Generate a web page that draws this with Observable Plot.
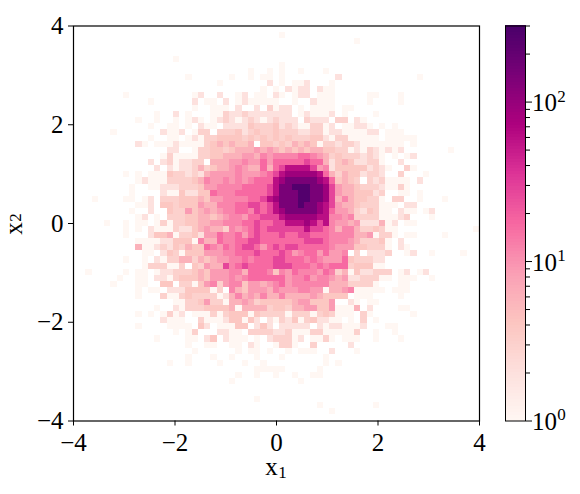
<!DOCTYPE html>
<html><head><meta charset="utf-8">
<script src="https://cdn.jsdelivr.net/npm/d3@7"></script>
<script src="https://cdn.jsdelivr.net/npm/@observablehq/plot@0.6"></script>
<style>
html,body{margin:0;padding:0;background:#fff}
#wrap{position:relative;width:580px;height:494px}
#wrap svg{position:absolute;left:0;top:0;background:transparent;font-family:'Liberation Serif',serif !important}
#wrap text{font-family:'Liberation Serif',serif !important}
#wrap g[aria-label="rect"] rect{shape-rendering:crispEdges}
</style></head><body><div id="wrap"></div>
<script>
const colormap = ["#fff7f3","#fde0dd","#fcc5c0","#fa9fb5","#f768a1","#dd3497","#ae017e","#7a0177","#49006a"];
const countLevels = [0,1,2,3,4,6,9,12,17,28,60,90,150,260];
const binCount = 65;
const axisTicks = [-4,-2,0,2,4];
const cbarMajor = [1,10,100];
const cbarMinor = [2,3,4,5,6,7,8,9,20,30,40,50,60,70,80,90,200,300];
// rows from top (x2 = +4) to bottom; groups of 5 columns, "-" = five empty cells; characters index countLevels
const rows = [
"",
"- - - - - - 00010",
"- - - - - - - - - 10000",
"",
"",
"- - - 01000",
"- - - - - - 00010",
"- - - - - 00010 01010 01000 10000",
"- - - 00010 - 10010 11010 - 00200 - - 10000",
"- - - - 00010 - 02010 11200 01000",
"- - - - - - 10102 12202 11000",
"- 00010 - 00001 20020 01201 10210 12201 11000 00110 00100",
"- - 00100 00002 01102 01211 11100 10021 11000 00100 00100",
"- - - 00001 00111 02002 03122 01011 11011",
"- - 00010 02010 00113 22322 22222 01211 12010 00010",
"- - 10010 01012 10123 21232 12322 20322 20330 21000",
"- - 00100 11010 21102 22243 33423 21133 12011 22101 01000",
"- 01000 00002 11201 33033 34234 33433 32233 12211 11220 11100",
"- - 00100 11012 13344 44343 43434 33344 21331 11110 11111",
"- - 21011 12111 13454 54450 44343 54541 33233 21111 11101",
"- - - 22001 33443 45556 56545 45455 44331 21321 21200 - 10000",
"- - 00001 31111 33445 55665 76777 78876 53433 32321 01012",
"- - 00202 31223 30555 66766 86888 88988 52454 22331 00200",
"- - 00020 21223 53455 67655 8589a aaa96 72444 44232 10031",
"- 00010 10111 43323 25666 67666 789ab bbbba 85354 42332 00300 01000",
"- - 12111 33334 57667 67678 88abc ccccb a8454 30323 11110 20000",
"- 00001 00112 22333 46677 77888 89acc dddcc b9655 43332 11310",
"- 00001 00002 11422 44877 78888 89acc cddcc b9655 44423 00110 10000",
"00010 00011 01203 33444 54667 77788 9abcc cddcc b9575 44331 03300 10001",
"- - 11204 43444 65577 78899 89acc cdccb a9655 43331 11022",
"- 00001 00200 43364 56567 78879 89abc ccccb a8665 32431 10211 01200",
"- - 12010 33344 55456 77688 999ab bbbba a7767 33331 11230 00100",
"- 10010 11013 13344 55667 77889 8899a aaba9 a7665 62225 12011",
"- 00010 10211 13224 56553 76789 89999 99a99 87577 53343 11000 - 00001",
"- 00010 00244 51334 26687 78689 88898 89988 87777 55613 31011 00001",
"- - 11112 24441 75587 78899 88888 88999 87776 53334 10200",
"- - 51123 24354 48768 78998 68989 98888 87666 44333 10210",
"- - 01102 43144 46667 78889 88898 67886 86670 30222 30012 00100 00100",
"- 00010 01021 33553 54566 77878 88998 88787 66684 33322",
"- - 01333 11304 36559 78988 88999 88878 78883 44411",
"00100 00010 11012 23334 54666 77588 87476 87776 87351 42233 30120 12000",
"- 00100 11022 13444 54666 76788 88886 77867 76562 23331 10111 00100",
"- 01000 11004 40331 46736 77466 56786 77777 75553 33310 00110",
"- - 10110 22244 44130 75466 65766 67766 15567 11111 01110",
"- - 10003 11343 33312 57565 75575 55565 44440 11100 00100",
"- - - 01133 46331 55653 44444 56644 46002 10110",
"- - 00010 02133 34444 51555 53443 55664 46111 50200 00110",
"- - 10101 31201 11313 44414 33331 33313 43111 03100 00001",
"- - 00002 11100 31112 44142 02132 41342 21101 03010",
"- - 10000 11110 42011 14402 42022 22202 12211 12000 11000",
"- - - 01013 00022 11033 33223 11133 11111 30010 01000",
"- - 00010 00011 02402 11101 02333 12011 31011 10010 00100",
"- - - 00010 01100 11021 00133 10030 00002",
"- - - 00001 - 01011 01001 01110 02000 10000",
"- - - 00010 00100 10001 00010 - 10000",
"- - - 10010 00010 00100 10000 - 10100",
"- - - - - 00001 11110 00001",
"- - - - - 01001 00100 10011",
"- - - - - 10000 - 01000",
"",
"",
"- - - - - 00001",
"- - - - - - - 00001 - 00010",
"- - - - - - - - 01000",
""
];

const cells = [];
const step = 8 / binCount;
rows.forEach((row, j) => {
  const chars = row.split(" ").map(t => t === "-" ? "00000" : t).join("");
  [...chars].forEach((c, i) => {
    const count = countLevels[parseInt(c, 36)];
    if (count > 0) cells.push({x1: -4 + i*step, x2: -4 + (i+1)*step, y1: 4 - j*step, y2: 4 - (j+1)*step, count});
  });
});

const ramp = d3.piecewise(d3.interpolateRgb, colormap);
const mL = 73, mT = 25.5, mR = 580-479, mB = 494-420.5;

const main = Plot.plot({
  width: 580, height: 494,
  marginLeft: mL, marginRight: mR, marginTop: mT, marginBottom: mB,
  style: {background: "transparent", color: "#000"},
  x: {domain: [-4,4], axis: null},
  y: {domain: [-4,4], axis: null},
  color: {type: "log", domain: [1,300], interpolate: ramp},
  marks: [
    Plot.rect(cells, {x1: "x1", x2: "x2", y1: "y1", y2: "y2", fill: "count"}),
    Plot.frame({stroke: "#000", strokeWidth: 1.2}),
    Plot.axisX({ticks: axisTicks, tickSize: 5, tickPadding: 7, fontSize: 25, label: null, stroke:"#000", fill:"#000", strokeWidth:1}),
    Plot.axisY({ticks: axisTicks, tickSize: 5, tickPadding: 5, fontSize: 25, label: null, stroke:"#000", fill:"#000", strokeWidth:1}),
    Plot.text(["x"], {x: 0, frameAnchor: "bottom", dy: 54, dx: -5, fontSize: 25, textAnchor: "middle", fill: "#000"}),
    Plot.text(["1"], {x: 0, frameAnchor: "bottom", dy: 57, dx: 6, fontSize: 17, textAnchor: "middle", fill: "#000"}),
    Plot.text(["x"], {y: 0, frameAnchor: "left", dx: -60, dy: 5, rotate: -90, fontSize: 25, textAnchor: "middle", fill: "#000"}),
    Plot.text(["2"], {y: 0, frameAnchor: "left", dx: -58, dy: -6, rotate: -90, fontSize: 17, textAnchor: "middle", fill: "#000"})
  ]
});

const bands = d3.range(0, 128).map(i => {
  const a = Math.pow(300, i/128), b = Math.pow(300, (i+1)/128);
  return {a, b, t: (i+0.5)/128};
});

const cbar = Plot.plot({
  width: 580, height: 494,
  marginLeft: 505, marginRight: 55, marginTop: mT, marginBottom: mB,
  style: {background: "transparent", color: "#000"},
  x: {axis: null},
  y: {type: "log", domain: [1,300], axis: null},
  marks: [
    Plot.rect(bands, {y1: "a", y2: "b", fill: d => ramp(d.t), inset: -0.5}),
    Plot.frame({stroke: "#000", strokeWidth: 1}),
    Plot.axisY({anchor: "right", ticks: cbarMinor, tickSize: 4, tickFormat: () => "", label: null, stroke:"#000", strokeWidth:1}),
    Plot.axisY({anchor: "right", ticks: cbarMajor, tickSize: 6, tickFormat: () => "", label: null, stroke:"#000", strokeWidth:1}),
    Plot.text(cbarMajor, {y: d => d, text: () => "10", frameAnchor: "right", dx: 19, dy: 1, fontSize: 25, textAnchor: "middle", fill: "#000"}),
    Plot.text(cbarMajor, {y: d => d, text: d => String(Math.log10(d)), frameAnchor: "right", dx: 36, dy: -6, fontSize: 17, textAnchor: "middle", fill: "#000"})
  ]
});

const wrap = document.getElementById("wrap");
wrap.append(main, cbar);
</script></body></html>
